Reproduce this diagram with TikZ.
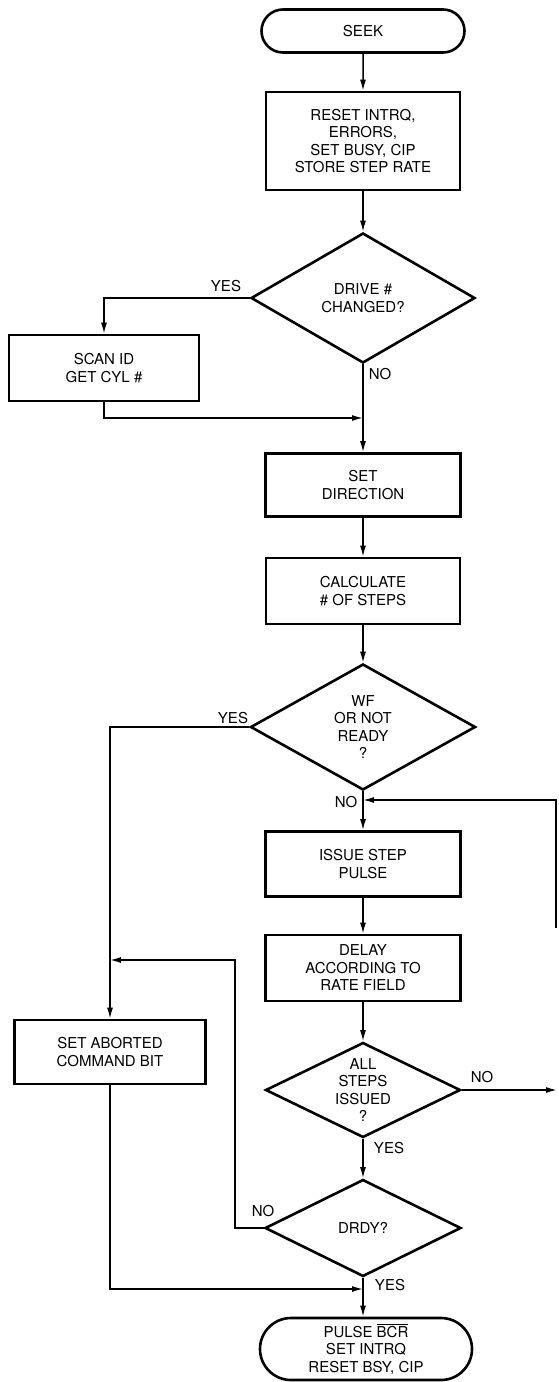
\documentclass[tikz,border=0pt]{standalone}
\usepackage{fontspec}
\setmainfont{TeX Gyre Heros}
\usetikzlibrary{shapes.geometric,shapes.misc,arrows.meta}

\begin{document}
\begin{tikzpicture}[>={Latex[length=11pt,width=6pt]}, x=1pt, y=-1pt]

% --- Styles for the flow chart ---
\tikzset{
    base/.style={draw=black, line width=2.6pt, align=center, inner sep=0pt,
                 font=\fontsize{15}{17.5}\selectfont},
    term/.style={base, rounded rectangle},
    proc/.style={base, rectangle},
    decision/.style={base, diamond, aspect=2},
    lbl/.style={font=\fontsize{15}{17.5}\selectfont, inner sep=0pt},
    flow/.style={->, line width=1.5pt}
}

    \useasboundingbox (0,0) rectangle (558,1382);

    % Main column
    \node[term, minimum width=203pt, minimum height=43pt] (seek) at (363,31) {SEEK};
    \node[proc, minimum width=194pt, minimum height=98pt] (init) at (363,141)
        {RESET INTRQ,\\ERRORS,\\SET BUSY, CIP\\STORE STEP RATE};
    \node[decision, minimum width=224pt, minimum height=130pt] (drive) at (363,298)
        {DRIVE \#\\CHANGED?};
    \node[proc, minimum width=195pt, minimum height=63pt] (setdir) at (363,485)
        {SET\\DIRECTION};
    \node[proc, minimum width=194pt, minimum height=66pt] (calc) at (363,591)
        {CALCULATE\\\# OF STEPS};
    \node[decision, minimum width=225pt, minimum height=126pt] (wf) at (363,727)
        {WF\\OR NOT\\READY\\?};
    \node[proc, minimum width=195pt, minimum height=65pt] (issue) at (363,864)
        {ISSUE STEP\\PULSE};
    \node[proc, minimum width=195pt, minimum height=66pt] (delay) at (363,968)
        {DELAY\\ACCORDING TO\\RATE FIELD};
    \node[decision, minimum width=195pt, minimum height=95pt] (allsteps) at (363,1090)
        {ALL\\STEPS\\ISSUED\\?};
    \node[decision, minimum width=196pt, minimum height=97pt] (drdy) at (363,1228)
        {DRDY?};
    \node[term, minimum width=212pt, minimum height=62pt] (pulse) at (366,1349)
        {PULSE $\overline{\mbox{BCR}}$\\SET INTRQ\\RESET BSY, CIP};

    % Side column
    \node[proc, minimum width=190pt, minimum height=66pt] (scan) at (104,368)
        {SCAN ID\\GET CYL \#};
    \node[proc, minimum width=191pt, minimum height=64pt] (abort) at (110,1052)
        {SET ABORTED\\COMMAND BIT};

    % Junctions
    \coordinate (join1) at (363,418);
    \coordinate (join2) at (363,800);
    \coordinate (loopB) at (556,928);
    \coordinate (exitR) at (557,1090);
    \coordinate (bend) at (235,1228);
    \coordinate (join3) at (110,960);
    \coordinate (join4) at (363,1289);

    % Branch labels
    \node[lbl] (yes1) at (226,286) {YES};
    \node[lbl] (no1) at (380,374) {NO};
    \node[lbl] (yes2) at (233,718) {YES};
    \node[lbl] (no2) at (346,802) {NO};
    \node[lbl] (no3) at (482,1077) {NO};
    \node[lbl] (yes3) at (389,1148) {YES};
    \node[lbl] (no4) at (263,1211) {NO};
    \node[lbl] (yes4) at (390,1285) {YES};

    % Connectors
    \draw[flow] (seek) -- (init);
    \draw[flow] (init) -- (drive);
    \draw[flow] (drive.west) -| (scan.north);
    \draw[flow] (scan.south) |- (join1);
    \draw[flow] (drive.south) -- (setdir.north);
    \draw[flow] (setdir) -- (calc);
    \draw[flow] (calc) -- (wf);
    \draw[flow] (wf.west) -| (abort.north);
    \draw[flow] (wf.south) -- (issue.north);
    \draw[flow] (loopB) |- (join2);
    \draw[flow] (issue) -- (delay);
    \draw[flow] (delay) -- (allsteps);
    \draw[flow] (allsteps.east) -- (exitR);
    \draw[flow] (allsteps.south) -- (drdy.north);
    \draw[flow] (drdy.west) -- (bend) |- (join3);
    \draw[flow] (abort.south) |- (join4);
    \draw[flow] (drdy.south) -- (drdy.south |- pulse.north);

\end{tikzpicture}
\end{document}
